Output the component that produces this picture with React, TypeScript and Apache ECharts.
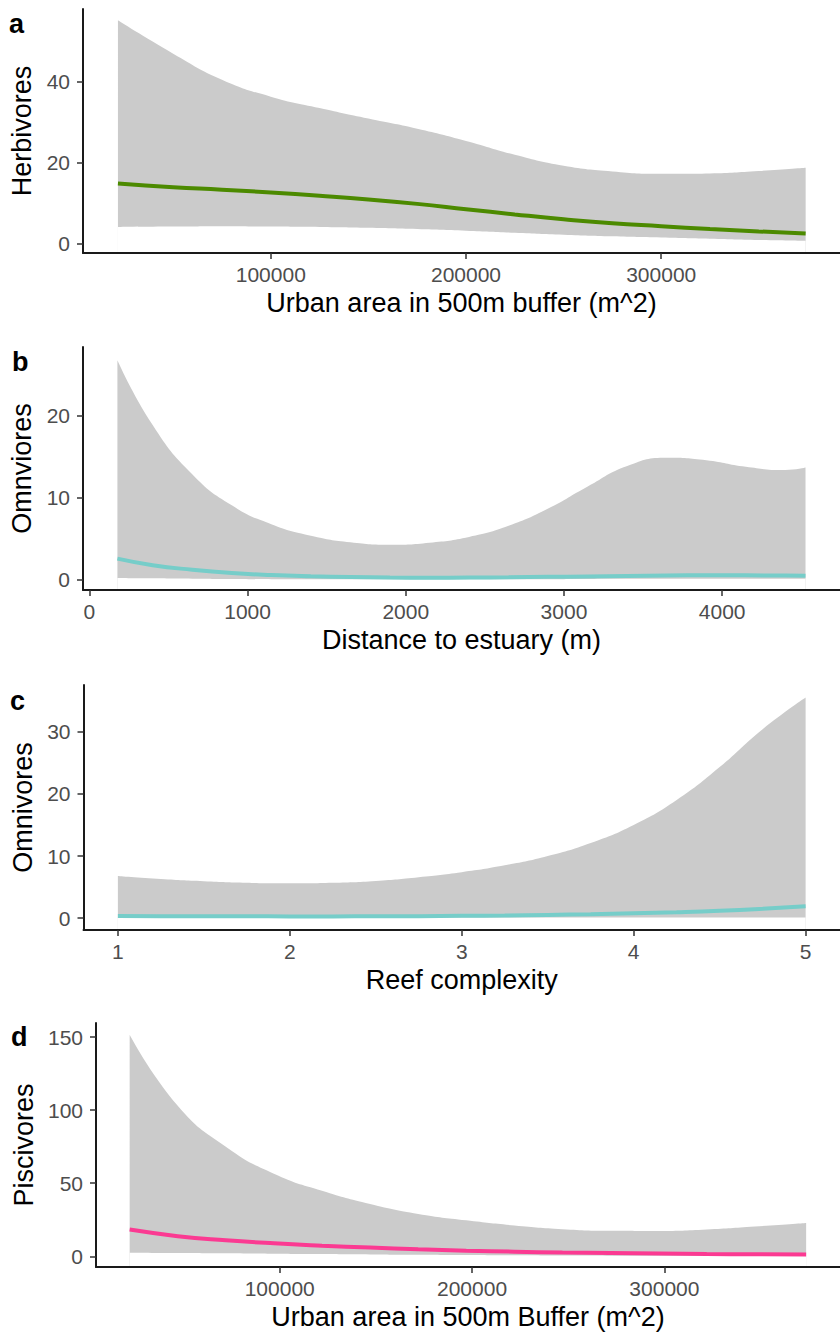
import React, { useEffect, useRef } from "react";
import * as echarts from "echarts";

// Panel a: Herbivores vs urban area
const aX = [21700, 50000, 75000, 100000, 125000, 150000, 175000, 200000, 225000, 250000, 275000, 300000, 325000, 350000, 374000];
const aUpper = [55, 46.8, 40.4, 36.2, 33.4, 30.8, 28.3, 25.3, 21.9, 19.2, 17.8, 17.2, 17.3, 17.9, 18.7];
const aLower = [4.1, 4.2, 4.3, 4.2, 4.1, 3.9, 3.6, 3.2, 2.7, 2.2, 1.8, 1.5, 1.2, 0.9, 0.7];
const aFit = [14.8, 13.9, 13.3, 12.6, 11.8, 10.9, 9.8, 8.5, 7.2, 6.0, 5.0, 4.3, 3.6, 3.0, 2.5];
const aXTicks = [100000, 200000, 300000];
const aYTicks = [0, 20, 40];

// Panel b: Omnviores vs distance to estuary
const bX = [177, 400, 650, 900, 1150, 1400, 1650, 1900, 2150, 2400, 2650, 2900, 3150, 3400, 3650, 3900, 4150, 4400, 4527];
const bUpper = [26.8, 18.9, 12.9, 9.1, 6.8, 5.4, 4.6, 4.3, 4.55, 5.25, 6.6, 8.7, 11.4, 13.9, 14.9, 14.6, 13.8, 13.4, 13.7];
const bLower = [0.25, 0.2, 0.16, 0.13, 0.1, 0.1, 0.1, 0.1, 0.1, 0.1, 0.1, 0.1, 0.12, 0.14, 0.15, 0.15, 0.15, 0.15, 0.15];
const bFit = [2.6, 1.8, 1.25, 0.85, 0.6, 0.45, 0.36, 0.3, 0.28, 0.3, 0.33, 0.38, 0.44, 0.5, 0.55, 0.58, 0.57, 0.54, 0.52];
const bXTicks = [0, 1000, 2000, 3000, 4000];
const bYTicks = [0, 10, 20];

// Panel c: Omnivores vs reef complexity
const cX = [1, 1.25, 1.5, 1.75, 2, 2.25, 2.5, 2.75, 3, 3.25, 3.5, 3.75, 4, 4.25, 4.5, 4.75, 5];
const cUpper = [6.8, 6.3, 5.95, 5.7, 5.6, 5.7, 6.0, 6.6, 7.4, 8.5, 10.0, 12.1, 15.0, 19.0, 24.3, 30.4, 35.5];
const cLower = [0.1, 0.1, 0.1, 0.1, 0.1, 0.1, 0.1, 0.1, 0.1, 0.1, 0.1, 0.1, 0.1, 0.1, 0.1, 0.1, 0.1];
const cFit = [0.35, 0.33, 0.31, 0.3, 0.29, 0.29, 0.3, 0.33, 0.38, 0.44, 0.53, 0.64, 0.78, 0.95, 1.18, 1.5, 1.9];
const cXTicks = [1, 2, 3, 4, 5];
const cYTicks = [0, 10, 20, 30];

// Panel d: Piscivores vs urban area
const dX = [22000, 47000, 72000, 97000, 122000, 147000, 172000, 197000, 222000, 247000, 272000, 297000, 322000, 347000, 373700];
const dUpper = [151.6, 103, 75, 56.5, 44.8, 35.8, 29, 24.6, 21.1, 18.6, 17.5, 17.4, 18.4, 20.4, 22.8];
const dLower = [2.5, 2.3, 2.1, 1.8, 1.55, 1.3, 1.1, 0.9, 0.7, 0.55, 0.45, 0.35, 0.3, 0.25, 0.2];
const dFit = [18.3, 13.8, 11.0, 8.9, 7.3, 6.0, 4.8, 3.9, 3.2, 2.6, 2.2, 1.9, 1.6, 1.4, 1.2];
const dXTicks = [100000, 200000, 300000];
const dYTicks = [0, 50, 100, 150];

const FONT = '"Liberation Sans", Arial, Helvetica, sans-serif';
const SMOOTH = 0.5;

function ribbon(idx: number, x: number[], lower: number[], upper: number[], fit: number[], color: string) {
  const common = {
    type: "line", xAxisIndex: idx, yAxisIndex: idx, smooth: SMOOTH,
    symbol: "none", silent: true,
  };
  return [
    {
      ...common, data: x.map((v, i) => [v, upper[i]]), lineStyle: { width: 0, opacity: 0 },
      areaStyle: { color: "#cbcbcb", opacity: 1, origin: "start" }, z: 1,
    },
    {
      ...common, data: x.map((v, i) => [v, lower[i]]), lineStyle: { width: 0, opacity: 0 },
      areaStyle: { color: "#ffffff", opacity: 1, origin: "start" }, z: 2,
    },
    {
      ...common, data: x.map((v, i) => [v, fit[i]]), lineStyle: { color, width: 4 }, z: 3,
    },
  ];
}

const fmt = (v: number) => String(v);

function xAxis(idx: number, min: number, max: number, ticks: number[], name: string) {
  return {
    type: "value", gridIndex: idx, min, max, name, nameLocation: "middle", nameGap: 36, z: 10,
    nameTextStyle: { fontFamily: FONT, fontSize: 27, color: "#000" },
    splitLine: { show: false },
    axisLine: { show: true, onZero: false, lineStyle: { color: "#1a1a1a", width: 2 } },
    axisTick: { show: true, length: 6, customValues: ticks, lineStyle: { color: "#333", width: 1.5 } },
    axisLabel: { customValues: ticks, formatter: fmt, margin: 11, fontFamily: FONT, fontSize: 21, color: "#4d4d4d" },
  };
}

function yAxis(idx: number, min: number, max: number, ticks: number[], name: string, gap: number) {
  return {
    type: "value", gridIndex: idx, min, max, name, nameLocation: "middle", nameGap: gap, z: 10,
    nameTextStyle: { fontFamily: FONT, fontSize: 27, color: "#000" },
    splitLine: { show: false },
    axisLine: { show: true, onZero: false, lineStyle: { color: "#1a1a1a", width: 2 } },
    axisTick: { show: true, length: 6, customValues: ticks, lineStyle: { color: "#333", width: 1.5 } },
    axisLabel: { customValues: ticks, formatter: fmt, margin: 13, fontFamily: FONT, fontSize: 21, color: "#4d4d4d" },
  };
}

export default function App() {
  const ref = useRef<HTMLDivElement>(null);
  useEffect(() => {
    if (!ref.current) return;
    const chart = echarts.init(ref.current, null, { renderer: "svg" });
    chart.setOption({
      animation: false,
      backgroundColor: "#fff",
      grid: [
        { left: 83, top: 9, width: 765, height: 244 },
        { left: 83, top: 347, width: 765, height: 243 },
        { left: 83.5, top: 685, width: 764, height: 245 },
        { left: 96, top: 1023, width: 752, height: 244 },
      ],
      xAxis: [
        xAxis(0, 3800, 391600, aXTicks, "Urban area in 500m buffer (m^2)"),
        xAxis(1, -40.5, 4745, bXTicks, "Distance to estuary (m)"),
        xAxis(2, 0.8, 5.2, cXTicks, "Reef complexity"),
        xAxis(3, 4500, 391300, dXTicks, "Urban area in 500m Buffer (m^2)"),
      ],
      yAxis: [
        yAxis(0, -2.3, 57.8, aYTicks, "Herbivores", 46),
        yAxis(1, -1.22, 28.4, bYTicks, "Omnviores", 46),
        yAxis(2, -1.9, 37.5, cYTicks, "Omnivores", 46),
        yAxis(3, -7.3, 159.6, dYTicks, "Piscivores", 59),
      ],
      series: [
        ...ribbon(0, aX, aLower, aUpper, aFit, "#4c8a00"),
        ...ribbon(1, bX, bLower, bUpper, bFit, "#76cdc9"),
        ...ribbon(2, cX, cLower, cUpper, cFit, "#76cdc9"),
        ...ribbon(3, dX, dLower, dUpper, dFit, "#fb3a92"),
      ],
      graphic: [
        { type: "text", x: 9, y: 24, style: { text: "a", font: "bold 27px " + FONT, fill: "#000", verticalAlign: "middle" } },
        { type: "text", x: 12, y: 362, style: { text: "b", font: "bold 27px " + FONT, fill: "#000", verticalAlign: "middle" } },
        { type: "text", x: 10, y: 701, style: { text: "c", font: "bold 27px " + FONT, fill: "#000", verticalAlign: "middle" } },
        { type: "text", x: 11, y: 1037, style: { text: "d", font: "bold 27px " + FONT, fill: "#000", verticalAlign: "middle" } },
      ],
    });
    return () => chart.dispose();
  }, []);
  return (
    <div
      ref={ref}
      style={{ position: "absolute", left: 0, top: 0, width: 840, height: 1336, overflow: "hidden" }}
    />
  );
}
